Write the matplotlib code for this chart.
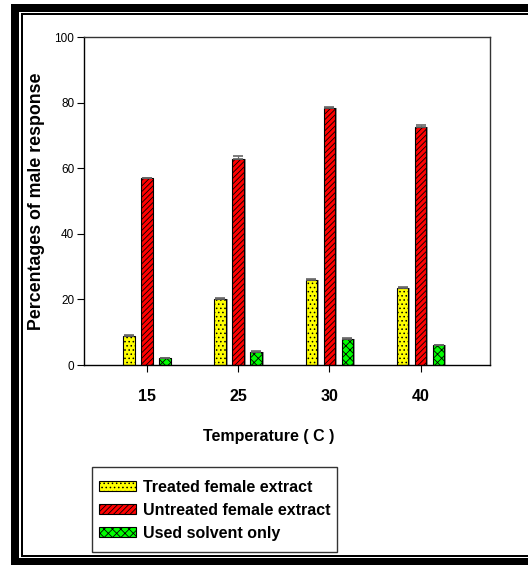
import matplotlib
matplotlib.use("Agg")
import matplotlib.pyplot as plt
import numpy as np
from matplotlib.patches import Rectangle

plt.rcParams["font.family"] = ["Liberation Sans", "DejaVu Sans"]
plt.rcParams["hatch.linewidth"] = 0.6

temperatures = ["15", "25", "30", "40"]
treated = [8.8, 20.0, 26.0, 23.5]
untreated = [57.0, 62.7, 78.3, 72.5]
solvent = [2.0, 4.0, 8.0, 6.0]
treated_err = [0.4, 0.3, 0.3, 0.3]
untreated_err = [0.0, 0.9, 0.4, 0.8]
solvent_err = [0.2, 0.2, 0.2, 0.2]

labels = ["Treated female extract", "Untreated female extract", "Used solvent only"]
colors = ["#ffff00", "#ff0000", "#00ff00"]
hatches = ["....", "//////", "xxxx"]

W, H = 528, 565
fig = plt.figure(figsize=(W / 100, H / 100), dpi=100)


def px(x0, y0, x1, y1):
    # pixel box (top-left origin) -> figure fraction rect
    return [x0 / W, 1 - y1 / H, (x1 - x0) / W, (y1 - y0) / H]


# double frame: thick outer strips, thin inner lines
strips = [(11, 4, 19, 565), (11, 4, 528, 12), (11, 558, 528, 565),
          (21, 13, 23, 557), (21, 13, 528, 15), (21, 555, 528, 557)]
for s in strips:
    r = px(*s)
    fig.patches.append(Rectangle((r[0], r[1]), r[2], r[3], transform=fig.transFigure,
                                 facecolor="black", edgecolor="none"))

ax = fig.add_axes(px(84, 37, 490, 365))

x = np.arange(len(temperatures))
width = 0.126
step = 0.197
series = [treated, untreated, solvent]
errs = [treated_err, untreated_err, solvent_err]

handles = []
for i, (vals, err) in enumerate(zip(series, errs)):
    pos = x + (i - 1) * step
    # soft grey shadow on the right of each bar
    ax.bar(pos + 0.018, vals, width, color="#9a9a9a", edgecolor="none", zorder=1)
    b = ax.bar(pos, vals, width, color=colors[i], edgecolor="black", linewidth=0.8,
               hatch=hatches[i], label=labels[i], zorder=2)
    ax.errorbar(pos, vals, yerr=[np.zeros(len(err)), err], fmt="none", ecolor="#666666",
                elinewidth=0.8, capsize=3.5, capthick=1.2, zorder=3)
    handles.append(b)

ax.set_xlim(-0.69, 3.76)
ax.set_ylim(0, 100)
ax.set_yticks(range(0, 101, 20))
ax.set_xticks(x)
ax.set_xticklabels(temperatures, fontsize=11.5, fontweight="bold")
ax.tick_params(axis="x", length=5, pad=12, direction="out")
ax.tick_params(axis="y", labelsize=8.5, length=5, direction="out", pad=2)
for side in ["top", "right"]:
    ax.spines[side].set_color("#333333")
for spine in ax.spines.values():
    spine.set_linewidth(1.0)

fig.text(269 / W, 1 - 436 / H, "Temperature ( C )", fontsize=11.5, fontweight="bold",
         ha="center", va="center")
fig.text(37 / W, 1 - 201 / H, "Percentages of male response", fontsize=12.8,
         fontweight="bold", rotation=90, ha="center", va="center")

# legend box drawn separately so its padding can match the original
r = px(92, 467, 337, 552)
fig.patches.append(Rectangle((r[0], r[1]), r[2], r[3], transform=fig.transFigure,
                             facecolor="white", edgecolor="#333333", linewidth=1.0))
leg = fig.legend(handles=handles, labels=labels, loc="upper left",
                 bbox_to_anchor=(99 / W, 1 - 480 / H), prop={"size": 11.5, "weight": "bold"},
                 frameon=False, handlelength=2.3, handleheight=0.6, labelspacing=0.5,
                 handletextpad=0.45, borderpad=0, borderaxespad=0)

fig.savefig("out.png", dpi=100)
